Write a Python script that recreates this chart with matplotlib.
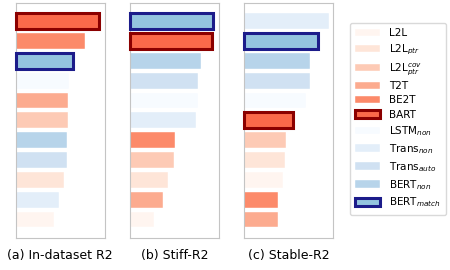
import numpy as np
import matplotlib
matplotlib.use("Agg")
import matplotlib.pyplot as plt
from matplotlib.patches import Patch

models = ["L2L", "L2L_ptr", "L2L_ptr_cov", "T2T", "BE2T", "BART",
          "LSTM_non", "Trans_non", "Trans_auto", "BERT_non", "BERT_match"]
labels = ["L2L", r"L2L$_{ptr}$", r"L2L$_{ptr}^{cov}$", "T2T", "BE2T", "BART",
          r"LSTM$_{non}$", r"Trans$_{non}$", r"Trans$_{auto}$", r"BERT$_{non}$",
          r"BERT$_{match}$"]

# scores per panel (axis 0..1)
in_dataset = [0.43, 0.54, 0.59, 0.59, 0.78, 0.94, 0.60, 0.49, 0.58, 0.58, 0.64]
stiff = [0.27, 0.43, 0.49, 0.37, 0.50, 0.925, 0.76, 0.74, 0.77, 0.80, 0.94]
stable = [0.44, 0.46, 0.47, 0.38, 0.38, 0.55, 0.70, 0.96, 0.74, 0.74, 0.83]

panels = [("(a) In-dataset R2", in_dataset),
          ("(b) Stiff-R2", stiff),
          ("(c) Stable-R2", stable)]

reds = plt.cm.Reds(np.linspace(0.0, 0.5, 6))
blues = plt.cm.Blues(np.linspace(0.0, 0.4, 5))
colors = dict(zip(models, list(reds) + list(blues)))
edges = {"BART": "#8b0000", "BERT_match": "#1c1c8a"}

fig = plt.figure(figsize=(4.5, 2.7), dpi=100)
lefts = [16 / 450, 130.3 / 450, 244.3 / 450]
width = 88.5 / 450

for left, (title, vals) in zip(lefts, panels):
    ax = fig.add_axes([left, 0.1185, width, 0.8715])
    order = np.argsort(vals)[::-1]
    for pos, i in enumerate(order):
        m = models[i]
        if m in edges:
            ax.barh(pos, vals[i], height=0.8, color=colors[m],
                    edgecolor=edges[m], linewidth=2.2, clip_on=False, zorder=3)
        else:
            ax.barh(pos, vals[i], height=0.8, color=colors[m],
                    edgecolor="white", linewidth=0.3, zorder=2)
    ax.set_xlim(0, 1)
    ax.set_ylim(10.93, -0.93)
    ax.set_xticks([])
    ax.set_yticks([])
    for s in ax.spines.values():
        s.set_color("#c4c4c4")
        s.set_linewidth(0.8)
    fig.text(left + width / 2, 1 - 255 / 270, title, ha="center", va="center",
             fontsize=9)

handles = []
for m in models:
    if m in edges:
        handles.append(Patch(facecolor=colors[m], edgecolor=edges[m], linewidth=2.2))
    else:
        handles.append(Patch(facecolor=colors[m], edgecolor="white", linewidth=0.3))

fig.legend(handles, labels, loc="upper left",
           bbox_to_anchor=(345 / 450, 1 - 18 / 270), fontsize=7.5,
           handlelength=2.4, handleheight=0.7, labelspacing=0.4,
           handletextpad=0.8, borderpad=0.5, frameon=True,
           edgecolor="#d0d0d0", fancybox=True)

fig.savefig("out.png", dpi=100)
